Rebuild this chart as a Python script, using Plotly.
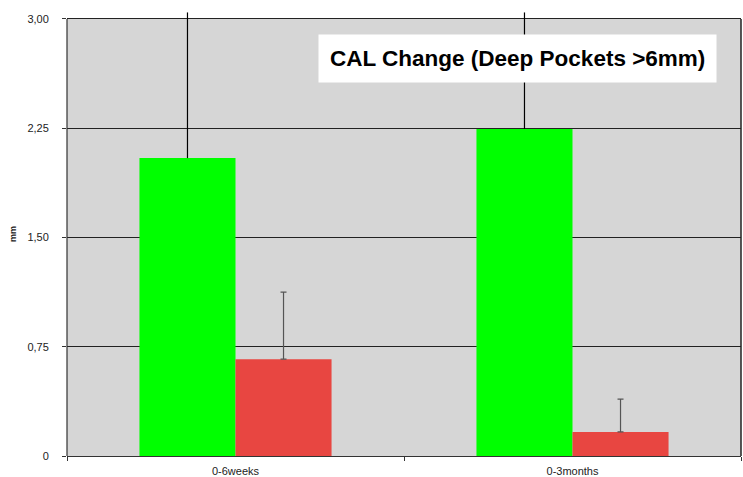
import plotly.graph_objects as go

categories = ["0-6weeks", "0-3months"]
green_values = [2.045, 2.245]
green_err = [1.0, 0.8]
red_values = [0.665, 0.165]
red_err = [0.46, 0.225]
ytick_vals = [0, 0.75, 1.5, 2.25, 3.0]
ytick_text = ["0", "0,75", "1,50", "2,25", "3,00"]
y_top = 3.0
y_view_top = 3.048

fig = go.Figure()
fig.add_trace(go.Bar(
    x=categories, y=green_values, marker=dict(color="#00FF00", line=dict(width=0)),
    error_y=dict(type="data", array=green_err, symmetric=False, arrayminus=[0, 0],
                 color="black", thickness=1.2, width=0),
    showlegend=False, hoverinfo="skip"))
fig.add_trace(go.Bar(
    x=categories, y=red_values, marker=dict(color="#E84641", line=dict(width=0)),
    error_y=dict(type="data", array=red_err, symmetric=False, arrayminus=[0, 0],
                 color="#555555", thickness=1.2, width=3),
    showlegend=False, hoverinfo="skip"))
fig.add_trace(go.Scatter(x=[], y=[], yaxis="y2", showlegend=False, hoverinfo="skip"))

fig.update_layout(
    width=743, height=477,
    margin=dict(l=67, r=2, t=12, b=21),
    paper_bgcolor="white", plot_bgcolor="white",
    barmode="group", bargap=0.43, bargroupgap=0,
    font=dict(family="Liberation Sans, Arial, sans-serif", color="#222222"),
    xaxis=dict(tickson="boundaries", ticks="outside", ticklen=4, tickcolor="#333",
               showline=True, linecolor="#333", linewidth=1, mirror=False,
               tickfont=dict(size=11), showgrid=False, automargin=False,
               ticklabelstandoff=5),
    yaxis=dict(range=[0, y_view_top], tickvals=ytick_vals, ticktext=ytick_text,
               ticks="outside", ticklen=15, tickcolor="rgba(0,0,0,0)",
               showline=False,
               gridcolor="#222222", gridwidth=1, zeroline=False,
               tickfont=dict(size=11), automargin=False,
               title=dict(text="<b>mm</b>", font=dict(size=9), standoff=9)),
    yaxis2=dict(range=[0, y_view_top], tickvals=ytick_vals, overlaying="y", side="left",
                ticks="outside", ticklen=4, tickcolor="#333", tickwidth=1.2,
                showticklabels=False,
                showgrid=False, zeroline=False, showline=False, automargin=False),
    shapes=[
        dict(type="rect", xref="paper", yref="y", x0=0, x1=1, y0=0, y1=y_top,
             fillcolor="#D6D6D6", line=dict(width=0), layer="below"),
        dict(type="line", xref="paper", yref="y", x0=0, x1=0, y0=0, y1=y_top,
             line=dict(color="#333", width=1.2)),
        dict(type="line", xref="paper", yref="y", x0=1, x1=1, y0=0, y1=y_top,
             line=dict(color="#222", width=1.5)),
    ],
    annotations=[dict(text="<b>CAL Change (Deep Pockets >6mm)</b>", xref="paper", yref="paper",
                      x=0.9644, y=0.95, xanchor="right", yanchor="top", showarrow=False,
                      font=dict(size=22.5, color="black"), bgcolor="white",
                      borderpad=11)],
)

fig.write_html("out.html", config={"displayModeBar": False},
               post_script="document.body.style.margin='0';")
